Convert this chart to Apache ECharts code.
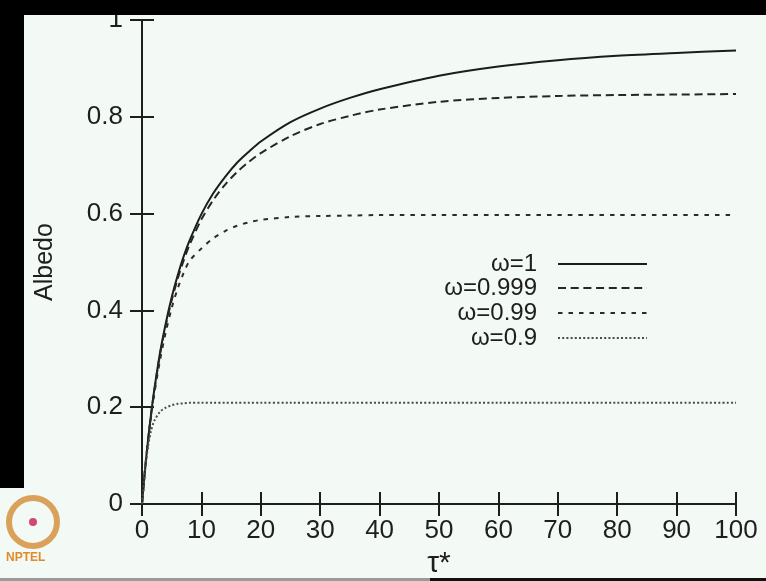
<!DOCTYPE html>
<html>
<head>
<meta charset="utf-8">
<script src="https://cdn.jsdelivr.net/npm/echarts@6/dist/echarts.min.js"></script>
<style>
  html, body { margin: 0; padding: 0; background: #f3faf5; }
  #chart { width: 766px; height: 581px; }
</style>
</head>
<body>
<div id="chart"></div>
<script>
// optical depth tau* (x axis)
const tau = [0, 0.5, 1, 1.5, 2, 3, 4, 5, 6, 7, 8, 10, 12, 14, 16, 18, 20, 25, 30, 35, 40, 50, 60, 70, 80, 90, 100]

// albedo, one array per omega
const albedo1 = [0, 0.07, 0.13, 0.183, 0.23, 0.31, 0.373, 0.427, 0.472, 0.511, 0.544, 0.599, 0.642, 0.676, 0.705, 0.728, 0.749, 0.789, 0.817, 0.839, 0.857, 0.885, 0.904, 0.917, 0.926, 0.932, 0.937]
const albedo0999 = [0, 0.07, 0.13, 0.182, 0.228, 0.307, 0.369, 0.421, 0.465, 0.503, 0.535, 0.588, 0.628, 0.66, 0.686, 0.707, 0.725, 0.76, 0.785, 0.802, 0.815, 0.831, 0.839, 0.843, 0.845, 0.846, 0.847]
const albedo099 = [0, 0.069, 0.128, 0.178, 0.222, 0.295, 0.355, 0.405, 0.445, 0.477, 0.502, 0.528, 0.549, 0.564, 0.575, 0.582, 0.587, 0.593, 0.595, 0.596, 0.597, 0.597, 0.597, 0.597, 0.597, 0.597, 0.597]
const albedo09 = [0, 0.068, 0.118, 0.15, 0.17, 0.19, 0.199, 0.204, 0.207, 0.208, 0.209, 0.209, 0.209, 0.209, 0.209, 0.209, 0.209, 0.209, 0.209, 0.209, 0.209, 0.209, 0.209, 0.209, 0.209, 0.209, 0.209]

const seriesNames = ['ω=1', 'ω=0.999', 'ω=0.99', 'ω=0.9']
const seriesData = [albedo1, albedo0999, albedo099, albedo09]
const dashTypes = ['solid', [8, 4.7], [4.5, 6], [2, 2.2]]
const lineColors = ['#1c1c1c', '#262626', '#2c2c2c', '#4a4a4a']

const FONT = "'Liberation Sans', Arial, sans-serif"
const INK = '#1e1e1e'

const chart = echarts.init(document.getElementById('chart'))

const axisLine = { show: true, lineStyle: { color: INK, width: 2 } }
const axisTick = { show: true, inside: true, length: 12, lineStyle: { color: INK, width: 2 } }

// one legend per series so text stays right aligned against the samples
const legendRows = [263, 287, 312, 337]
const legends = seriesNames.map((name, i) => ({
  data: [name],
  right: 113,
  top: legendRows[i] - 16,
  align: 'right',
  itemWidth: 89,
  itemHeight: 14,
  selectedMode: false,
  itemStyle: { opacity: 0, borderWidth: 0 },
  textStyle: { fontFamily: FONT, fontSize: 24, color: INK, padding: [0, 16, 0, 0] }
}))

chart.setOption({
  backgroundColor: '#f3faf5',
  animation: false,
  grid: { left: 142, right: 30, top: 20, bottom: 77, containLabel: false, outerBoundsMode: 'none' },
  legend: legends,
  xAxis: [
    {
      type: 'value', min: 0, max: 100, interval: 10, position: 'bottom',
      name: 'τ*', nameLocation: 'middle', nameGap: 44,
      nameTextStyle: { fontFamily: FONT, fontSize: 30, color: INK },
      axisLine, axisTick,
      axisLabel: { fontFamily: FONT, fontSize: 26, color: INK, margin: 14 },
      splitLine: { show: false }
    },
    {
      type: 'value', min: 0, max: 100, interval: 10, position: 'top',
      axisLine, axisTick, axisLabel: { show: false }, splitLine: { show: false }
    }
  ],
  yAxis: [
    {
      type: 'value', min: 0, max: 1, interval: 0.2, position: 'left',
      name: 'Albedo', nameLocation: 'middle', nameGap: 84, nameRotate: 90,
      nameTextStyle: { fontFamily: FONT, fontSize: 25, color: INK },
      axisLine, axisTick,
      axisLabel: { fontFamily: FONT, fontSize: 26, color: INK, margin: 19 },
      splitLine: { show: false }
    },
    {
      type: 'value', min: 0, max: 1, interval: 0.2, position: 'right',
      axisLine, axisTick, axisLabel: { show: false }, splitLine: { show: false }
    }
  ],
  series: seriesNames.map((name, i) => ({
    name,
    type: 'line',
    data: tau.map((t, j) => [t, seriesData[i][j]]),
    symbol: 'none',
    smooth: 0.3,
    lineStyle: { color: lineColors[i], width: 2, type: dashTypes[i] },
    itemStyle: { color: lineColors[i] }
  })),
  graphic: [
    // video frame: black bands at top and left, strip at the bottom
    { type: 'rect', z: 100, shape: { x: 0, y: 0, width: 766, height: 15 }, style: { fill: '#000' } },
    { type: 'rect', z: 100, shape: { x: 0, y: 0, width: 24, height: 488 }, style: { fill: '#000' } },
    { type: 'rect', z: 100, shape: { x: 0, y: 578, width: 766, height: 3 }, style: { fill: '#9a9a9a' } },
    { type: 'rect', z: 101, shape: { x: 430, y: 578, width: 336, height: 3 }, style: { fill: '#111' } },
    // NPTEL logo
    { type: 'circle', z: 100, shape: { cx: 33, cy: 522, r: 24 }, style: { fill: 'none', stroke: '#d9a15a', lineWidth: 6 } },
    { type: 'circle', z: 100, shape: { cx: 33, cy: 522, r: 4 }, style: { fill: '#d4457a' } },
    { type: 'text', z: 100, left: 6, top: 552, style: { text: 'NPTEL', fontFamily: FONT, fontSize: 12, fontWeight: 'bold', fill: '#e08a2a' } }
  ]
})
</script>
</body>
</html>
